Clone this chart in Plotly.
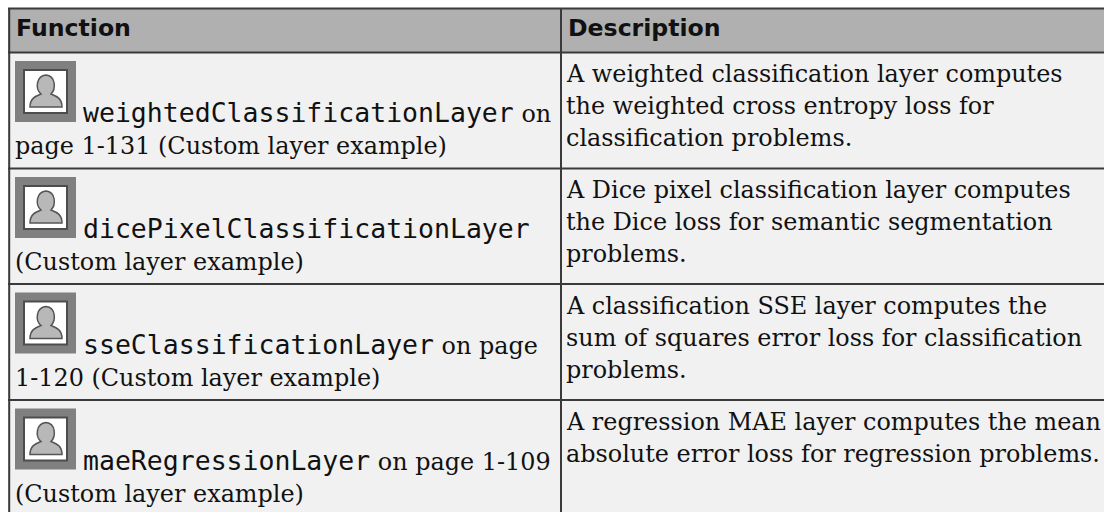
import plotly.graph_objects as go

W, H = 1104, 512
headers = ["Function", "Description"]
func_names = ["weightedClassificationLayer", "dicePixelClassificationLayer", "sseClassificationLayer", "maeRegressionLayer"]
func_suffix = [" on", "", " on page", " on page 1-109"]
func_second = ["page 1-131 (Custom layer example)", "(Custom layer example)", "1-120 (Custom layer example)", "(Custom layer example)"]
descriptions = [
    ["A weighted classification layer computes", "the weighted cross entropy loss for", "classification problems."],
    ["A Dice pixel classification layer computes", "the Dice loss for semantic segmentation", "problems."],
    ["A classification SSE layer computes the", "sum of squares error loss for classification", "problems."],
    ["A regression MAE layer computes the mean", "absolute error loss for regression problems."],
]
row_tops = [52.5, 168.5, 284, 400]
col_x = [9, 561, 1104]
SERIF = "DejaVu Serif"
MONO = "DejaVu Sans Mono"
SANS = "DejaVu Sans"
TEXT = "#111111"
LINE = "#3a3a3a"

shapes, ann = [], []

def rect(x0, y0, x1, y1, fill, line=None, lw=0):
    shapes.append(dict(type="rect", x0=x0, y0=y0, x1=x1, y1=y1, fillcolor=fill,
                       line=dict(color=line or fill, width=lw), layer="below"))

def hline(y, x0=8, x1=W, w=2):
    shapes.append(dict(type="line", x0=x0, x1=x1, y0=y, y1=y, line=dict(color=LINE, width=w)))

def vline(x, y0=8, y1=H, w=2):
    shapes.append(dict(type="line", x0=x, x1=x, y0=y0, y1=y1, line=dict(color=LINE, width=w)))

def text(x, y, s, family=SERIF, size=23.9, bold=False):
    ann.append(dict(x=x, y=y, text=f"<b>{s}</b>" if bold else s, xref="x", yref="y", showarrow=False,
                    xanchor="left", yanchor="middle", align="left", borderpad=0, borderwidth=0,
                    font=dict(family=family, size=size, color=TEXT)))

def icon(x, y):
    rect(x, y, x + 61, y + 61, "#808080")
    rect(x + 9, y + 9, x + 52, y + 52, "#ffffff", "#4d4d4d", 2)
    body = (f"M {x+15} {y+46} C {x+15} {y+37} {x+21} {y+35} {x+26} {y+33} "
            f"C {x+20} {y+28} {x+21} {y+15} {x+31} {y+14} "
            f"C {x+41} {y+15} {x+41} {y+28} {x+36} {y+33} "
            f"C {x+41} {y+35} {x+47} {y+37} {x+47} {y+46} Z")
    shapes.append(dict(type="path", path=body, fillcolor="#b8b8b8", line=dict(color="#555555", width=1.5)))

rect(8, 8, W, 52, "#b0b0b0")
rect(8, 52, W, H, "#f1f1f1")
hline(8.5)
for y in row_tops:
    hline(y)
vline(9.2)
vline(col_x[1])

text(16, 28, headers[0], SANS, 23.6, True)
text(col_x[1] + 7, 28, headers[1], SANS, 23.6, True)

for i, top in enumerate(row_tops):
    icon(15, top + 8.5)
    line1 = (f'<span style="font-family:{MONO};font-size:26.5px">{func_names[i]}</span>'
             f'{func_suffix[i]}')
    text(83, top + 60, line1)
    text(15, top + 93.5, func_second[i])
    for j, d in enumerate(descriptions[i]):
        text(col_x[1] + 5, top + 21.5 + j * 32, d)

fig = go.Figure()
fig.update_layout(width=W, height=H, margin=dict(l=0, r=0, t=0, b=0), paper_bgcolor="#ffffff",
                  plot_bgcolor="#ffffff", shapes=shapes, annotations=ann, showlegend=False,
                  xaxis=dict(range=[0, W], visible=False, fixedrange=True),
                  yaxis=dict(range=[H, 0], visible=False, fixedrange=True))
fig.write_html("out.html", config=dict(displayModeBar=False),
               post_script="document.body.style.margin='0';document.documentElement.style.overflow='hidden';")
